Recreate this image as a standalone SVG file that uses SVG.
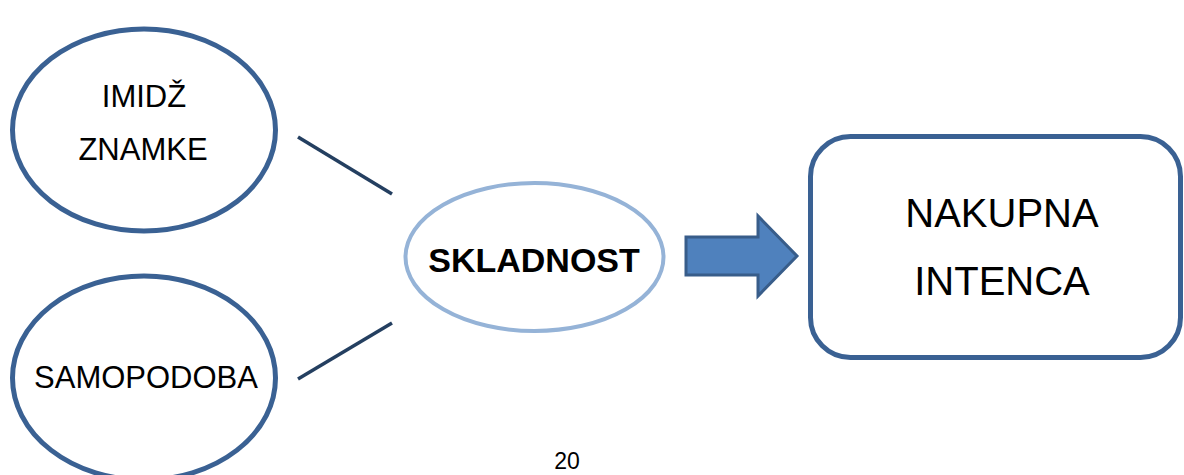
<svg xmlns="http://www.w3.org/2000/svg" width="1184" height="475" viewBox="0 0 1184 475">
  <style>
    .node { fill: #ffffff; stroke: #3A6193; stroke-width: 5; }
    .center { fill: #ffffff; stroke: #95B3D7; stroke-width: 4; }
    .link { stroke: #243F60; stroke-width: 3.5; fill: none; }
    .lbl { font-family: "Liberation Sans", Arial, sans-serif; fill: #000000; text-anchor: middle; }
  </style>
  <rect width="1184" height="475" fill="#ffffff"/>

  <!-- connectors -->
  <g id="connectors">
    <line class="link" x1="298" y1="137" x2="392" y2="194"/>
    <line class="link" x1="392" y1="323" x2="298" y2="379"/>
    <path d="M686,237 L758,237 L758,216 L797,256 L758,296 L758,275 L686,275 Z" fill="#4F81BD" stroke="#385D8A" stroke-width="3" stroke-linejoin="miter"/>
  </g>

  <g id="imidz">
    <ellipse class="node" cx="144" cy="130" rx="131.5" ry="101"/>
    <text class="lbl" x="144" y="107" font-size="31">IMIDŽ</text>
    <text class="lbl" x="143" y="160" font-size="31">ZNAMKE</text>
  </g>

  <g id="samopodoba">
    <ellipse class="node" cx="144" cy="378" rx="131.5" ry="102"/>
    <text class="lbl" x="146" y="388" font-size="31">SAMOPODOBA</text>
  </g>

  <g id="skladnost">
    <ellipse class="center" cx="534.5" cy="257" rx="129" ry="74"/>
    <text class="lbl" x="534" y="272" font-size="34" font-weight="bold">SKLADNOST</text>
  </g>

  <g id="nakupna">
    <rect class="node" x="810.5" y="136.5" width="370" height="221" rx="40" ry="40"/>
    <text class="lbl" x="1002" y="227" font-size="40">NAKUPNA</text>
    <text class="lbl" x="1002" y="295" font-size="40">INTENCA</text>
  </g>

  <text class="lbl" x="567" y="469" font-size="23">20</text>
</svg>
